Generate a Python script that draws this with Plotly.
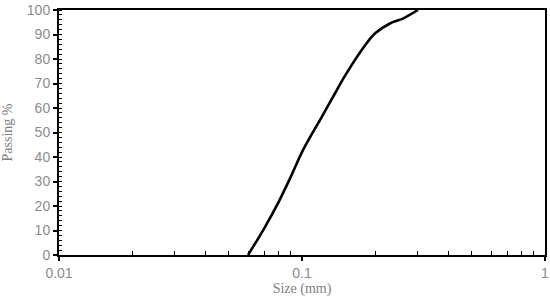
import plotly.graph_objects as go

size_mm = [0.06, 0.07, 0.08, 0.09, 0.1, 0.11, 0.12, 0.135, 0.15, 0.18, 0.2, 0.23, 0.26, 0.3]
passing = [0, 11, 21.5, 32, 42, 49.5, 56, 65, 73, 85, 90.5, 94.5, 96.5, 100]

x_major = [0.01, 0.1, 1]
x_major_text = ["0.01", "0.1", "1"]
x_minor = [m * d for d in (0.01, 0.1) for m in range(2, 10)]
y_major = list(range(0, 101, 10))
y_minor = list(range(0, 101, 2))

fig = go.Figure()
fig.add_trace(go.Scatter(
    x=size_mm, y=passing, mode="lines",
    line=dict(color="black", width=2.6, shape="spline", smoothing=1.0),
    showlegend=False,
))

tickfont = dict(family="Liberation Sans, Arial, sans-serif", size=14, color="#8c8c8c")
titlefont = dict(family="Liberation Serif, Times New Roman, serif", size=14, color="#808080")

fig.update_xaxes(
    type="log", range=[-2, 0], automargin=False,
    tickmode="array", tickvals=x_major, ticktext=x_major_text,
    ticks="outside", ticklen=4, tickwidth=1.5, tickcolor="black",
    minor=dict(tickmode="array", tickvals=x_minor, ticks="inside", ticklen=4,
               tickwidth=1.2, tickcolor="black", showgrid=False),
    showline=True, linecolor="black", linewidth=2, mirror=True,
    showgrid=False, zeroline=False,
    tickfont=tickfont,
    title=dict(text="Size (mm)", font=titlefont),
)
fig.update_yaxes(
    range=[0, 100], automargin=False,
    tickmode="array", tickvals=y_major,
    ticks="outside", ticklen=4, tickwidth=1.5, tickcolor="black",
    minor=dict(tickmode="array", tickvals=y_minor, ticks="inside", ticklen=3,
               tickwidth=1.2, tickcolor="black", showgrid=False),
    showline=True, linecolor="black", linewidth=2, mirror=True,
    showgrid=False, zeroline=False,
    tickfont=tickfont,
    title=dict(text="Passing %", font=titlefont),
)
fig.update_layout(
    width=550, height=297,
    margin=dict(l=59, r=5, t=10, b=42),
    paper_bgcolor="white", plot_bgcolor="white",
)
fig.write_html("out.html", config={"displayModeBar": False},
               post_script="document.body.style.margin='0';")
